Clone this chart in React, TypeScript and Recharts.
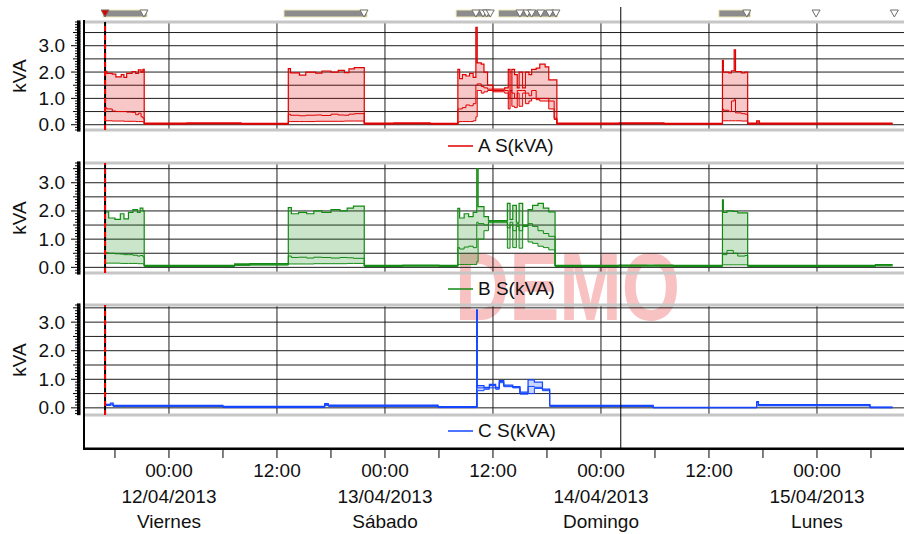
import React from 'react';
import {
  ComposedChart,
  Area,
  Line,
  XAxis,
  YAxis,
  CartesianGrid,
  ReferenceLine,
  ReferenceArea,
  Scatter,
  Legend,
} from 'recharts';

const FONT = '"Liberation Sans", Arial, sans-serif';

// hours counted from 12/04/2013 00:00
const X_DOMAIN: [number, number] = [-9.44, 81.67];
const gridHours = [0, 12, 24, 36, 48, 60, 72];
const axisHours = [-6, 0, 6, 12, 18, 24, 30, 36, 42, 48, 54, 60, 66, 72, 78];
const gridValues = [0, 0.5, 1, 1.5, 2, 2.5, 3, 3.5];
const dayDates = ['12/04/2013', '13/04/2013', '14/04/2013', '15/04/2013'];
const dayNames = ['Viernes', 'Sábado', 'Domingo', 'Lunes'];

const startHour = -7.1;
const cursorHour = 50.2;

// event strip on top
const eventStarts = [-7.33, 12.78, 31.9, 36.6, 61.1];
const eventEnds = [-2.44, 22.0, 35.8, 43.2, 64.6];
const markerHours = [-2.78, 21.67, 34.1, 34.9, 35.3, 35.7, 39.0, 39.8, 40.3, 41.3, 42.3, 43.0, 64.2, 71.9, 80.6];

// phase A
const hoursA = [
  -7.1, -6.9, -6.3, -5.9, -5.3, -5.0, -4.7, -4.1, -3.7, -3.4, -3.1, -2.9,
  -2.75, 2.0, 8.0,
  13.26, 13.5, 14.5, 15.2, 16.3, 17.0, 18.0, 18.8, 19.5, 20.0, 20.6,
  21.7, 25.0, 29.0,
  32.1, 32.3, 32.6, 33.0, 33.4, 33.8, 34.1, 34.25, 34.7, 35.0, 35.4, 36.0, 37.3, 37.7,
  37.9, 38.1, 38.4, 38.7, 38.9, 39.3, 39.6, 40.0, 40.3, 40.8, 41.2, 41.8, 42.2, 42.8,
  43.1, 50.0, 55.0,
  61.5, 61.6, 62.2, 62.5, 62.8, 62.95, 63.6, 64.0,
  64.3, 65.3, 65.6, 72.0, 80.4,
];
const aMin = [
  0.15, 0.15, 0.14, 0.14, 0.14, 0.13, 0.13, 0.13, 0.12, 0.12, 0.12, 0.1,
  0.02, 0.03, 0.02,
  0.12, 0.12, 0.12, 0.12, 0.13, 0.13, 0.13, 0.13, 0.14, 0.14, 0.14,
  0.02, 0.03, 0.02,
  0.1, 0.12, 0.12, 0.12, 0.12, 0.15, 0.3, 1.3, 1.2, 1.25, 1.3, 1.25, 1.2, 0.6,
  1.3, 0.7, 0.65, 1.2, 0.7, 1.2, 0.8, 0.9, 1.0, 0.95, 0.9, 0.9, 0.6, 0.2,
  0.02, 0.03, 0.02,
  0.15, 0.15, 0.15, 0.15, 0.15, 0.15, 0.14, 0.14,
  0.02, 0.04, 0.02, 0.02, 0.02,
];
const aAvg = [
  0.64, 0.6, 0.52, 0.5, 0.5, 0.5, 0.48, 0.47, 0.38, 0.44, 0.3, 0.25,
  0.04, 0.05, 0.03,
  0.4, 0.36, 0.34, 0.36, 0.37, 0.35, 0.4, 0.37, 0.36, 0.4, 0.42,
  0.04, 0.05, 0.03,
  0.6, 0.6, 0.65, 0.75, 0.72, 0.8, 1.5, 1.55, 1.45, 1.4, 1.35, 1.3, 1.3, 1.0,
  1.3, 1.2, 1.0, 1.3, 1.3, 1.3, 1.2, 1.1, 1.3, 1.0, 1.0, 1.0, 0.9, 0.25,
  0.04, 0.05, 0.03,
  0.6, 0.55, 0.5, 0.9, 0.95, 0.45, 0.42, 0.4,
  0.04, 0.1, 0.04, 0.04, 0.04,
];
const aMax = [
  2.03, 1.95, 1.92, 1.82, 1.9, 1.8, 1.95, 2.02, 1.95, 2.08, 2.0, 2.1,
  0.06, 0.07, 0.05,
  2.13, 1.97, 1.88, 2.0, 1.96, 2.04, 2.0, 2.06, 1.98, 2.12, 2.17,
  0.06, 0.07, 0.05,
  2.1, 1.75, 1.9, 1.85, 1.95, 1.8, 3.7, 2.35, 2.3, 2.0, 1.5, 1.35, 1.4, 2.1,
  1.3, 2.1, 1.9, 1.4, 2.0, 1.4, 2.0, 1.9, 2.1, 2.15, 2.3, 2.2, 1.7, 1.7,
  0.06, 0.07, 0.05,
  2.44, 2.0, 1.97, 2.05, 2.84, 2.02, 1.97, 2.0,
  0.06, 0.15, 0.06, 0.06, 0.06,
];

// phase B
const hoursB = [
  -7.1, -6.7, -6.0, -5.4, -5.0, -4.5, -4.0, -3.5, -3.2, -2.9,
  -2.75, 7.3, 9.0,
  13.26, 13.6, 14.4, 15.3, 16.1, 17.0, 18.0, 19.0, 19.8, 20.5,
  21.7, 26.0, 30.0,
  32.1, 32.3, 32.8, 33.3, 33.8, 34.2, 34.35, 35.0, 35.5, 37.6,
  37.9, 38.2, 38.6, 38.9, 39.3, 39.9, 40.4, 41.0, 41.6, 42.2,
  42.9, 50.0, 56.0,
  61.5, 61.6, 62.0, 62.7, 63.2, 64.0,
  64.3, 70.0, 78.5, 80.4,
];
const bMin = [
  0.15, 0.15, 0.15, 0.14, 0.14, 0.14, 0.14, 0.13, 0.13, 0.12,
  0.03, 0.07, 0.08,
  0.12, 0.12, 0.12, 0.12, 0.13, 0.13, 0.13, 0.13, 0.14, 0.14,
  0.03, 0.04, 0.03,
  0.1, 0.1, 0.1, 0.1, 0.1, 0.2, 1.0, 1.3, 1.58, 0.68,
  1.5, 0.7, 1.45, 0.68, 1.45, 0.9, 0.85, 0.75, 0.7, 0.62,
  0.03, 0.04, 0.03,
  0.09, 0.09, 0.09, 0.09, 0.09, 0.09,
  0.03, 0.03, 0.05, 0.05,
];
const bAvg = [
  0.52, 0.5, 0.48, 0.47, 0.45, 0.45, 0.43, 0.4, 0.42, 0.37,
  0.05, 0.1, 0.11,
  0.4, 0.35, 0.36, 0.33, 0.36, 0.35, 0.33, 0.35, 0.34, 0.32,
  0.05, 0.06, 0.05,
  0.7, 0.65, 0.72, 0.75, 0.7, 1.6, 1.55, 1.5, 1.62, 1.4,
  1.6, 1.3, 1.55, 1.3, 1.47, 1.55, 1.45, 1.3, 1.2, 1.1,
  0.05, 0.06, 0.05,
  0.5, 0.45, 0.6, 0.5, 0.4, 0.42,
  0.05, 0.05, 0.08, 0.08,
];
const bMax = [
  1.97, 1.75, 1.7, 1.9, 1.72, 1.95, 2.05, 1.95, 2.1, 2.0,
  0.07, 0.12, 0.13,
  2.12, 1.9, 1.95, 1.9, 2.0, 1.95, 2.05, 2.0, 2.1, 2.17,
  0.07, 0.08, 0.07,
  2.09, 1.75, 1.9, 1.8, 1.95, 3.5, 2.15, 1.8, 1.66, 2.27,
  1.7, 2.2, 1.6, 2.27, 1.5, 2.05, 2.2, 2.27, 2.1, 1.97,
  0.07, 0.08, 0.07,
  2.39, 1.95, 2.0, 1.98, 1.93, 1.93,
  0.07, 0.07, 0.1, 0.1,
];

// phase C
const hoursC = [
  -7.1, -6.5, -6.2, 6.0, 17.3, 17.7, 29.9, 34.2, 34.25, 35.0, 35.6, 36.3, 36.7,
  37.2, 38.2, 39.0, 39.9, 40.6, 41.5, 42.3, 53.8, 65.3, 65.5, 77.9, 80.4,
];
const cMin = [
  0.08, 0.1, 0.05, 0.01, 0.08, 0.05, 0.01, 0.02, 0.6, 0.65, 0.7, 0.65, 0.88,
  0.74, 0.7, 0.48, 0.5, 0.68, 0.6, 0.05, 0.0, 0.1, 0.07, 0.0, 0.0,
];
const cAvg = [
  0.1, 0.14, 0.07, 0.03, 0.12, 0.08, 0.03, 3.43, 0.7, 0.69, 0.78, 0.69, 0.92,
  0.77, 0.72, 0.51, 0.75, 0.72, 0.63, 0.07, 0.01, 0.18, 0.09, 0.02, 0.02,
];
const cMax = [
  0.12, 0.17, 0.09, 0.05, 0.15, 0.1, 0.04, 3.43, 0.78, 0.72, 0.82, 0.72, 0.95,
  0.8, 0.74, 0.55, 0.98, 0.9, 0.66, 0.09, 0.02, 0.22, 0.11, 0.03, 0.03,
];

type Row = { h: number; min: number; avg: number; max: number };

const buildRows = (hours: number[], mins: number[], avgs: number[], maxs: number[]): Row[] =>
  hours.map((h, i) => ({ h, min: mins[i], avg: avgs[i], max: maxs[i] }));

const rowsA = buildRows(hoursA, aMin, aAvg, aMax);
const rowsB = buildRows(hoursB, bMin, bAvg, bMax);
const rowsC = buildRows(hoursC, cMin, cAvg, cMax);
const markerRows = markerHours.map((h) => ({ h, y: 0.5 }));
const startRows = [{ h: startHour, y: 0.5 }];

// ruler ticks every 0.1 kVA inside the domain
const rulerTicks = (d: [number, number]) => {
  const lo = Math.ceil(d[0] * 10 - 1e-6);
  const hi = Math.floor(d[1] * 10 + 1e-6);
  return Array.from({ length: hi - lo + 1 }, (_, i) => (lo + i) / 10);
};

const RulerTick = (props: any) => {
  const { x, y, payload } = props;
  const v = payload.value;
  const tenth = Math.round(v * 10);
  const major = tenth % 10 === 0;
  const half = tenth % 5 === 0;
  const len = major ? 13 : half ? 11 : 9;
  return (
    <g>
      <rect x={x - 7} y={y - 1.6} width={3.5} height={3.2} fill="#000" />
      <line x1={x - len} x2={x - 7} y1={y} y2={y} stroke="#000" strokeWidth={1} />
      {major && tenth >= 0 && (
        <text
          x={x - 19}
          y={y}
          textAnchor="end"
          dominantBaseline="central"
          fontSize={19}
          fontFamily={FONT}
          fill="#111"
        >
          {(tenth / 10).toFixed(1)}
        </text>
      )}
    </g>
  );
};

const kvaLabel = (props: any) => {
  const vb = props.viewBox;
  const cx = vb.x + 19;
  const cy = vb.y + vb.height / 2;
  return (
    <text
      x={cx}
      y={cy}
      transform={`rotate(-90 ${cx} ${cy})`}
      textAnchor="middle"
      dominantBaseline="central"
      fontSize={19}
      fontFamily={FONT}
      fill="#111"
    >
      kVA
    </text>
  );
};

const TimeTick = (props: any) => {
  const { x, y, payload } = props;
  const v = payload.value;
  if (v % 12 !== 0) return <g />;
  const midnight = v % 24 === 0;
  const day = v / 24;
  return (
    <text x={x} y={y} textAnchor="middle" fontSize={19} fontFamily={FONT} fill="#111">
      <tspan x={x} dy="0.9em">{midnight ? '00:00' : '12:00'}</tspan>
      {midnight && <tspan x={x} dy="1.35em">{dayDates[day]}</tspan>}
      {midnight && <tspan x={x} dy="1.35em">{dayNames[day]}</tspan>}
    </text>
  );
};

const Tri = (props: any) => {
  const { cx, cy, fill } = props;
  return (
    <polygon
      points={`${cx - 4},${cy - 3.5} ${cx + 4},${cy - 3.5} ${cx},${cy + 3.5}`}
      fill={fill}
      stroke="#6e6e6e"
      strokeWidth={1}
    />
  );
};

const Nothing = () => <g />;

const LegendBox = ({ color, label }: { color: string; label: string }) => (
  <div
    style={{
      height: 32,
      display: 'flex',
      alignItems: 'center',
      paddingLeft: 448,
      fontFamily: FONT,
      fontSize: 19,
      color: '#111',
    }}
  >
    <svg width={25} height={6}>
      <line x1={0} x2={25} y1={3} y2={3} stroke={color} strokeWidth={1.5} />
    </svg>
    <span style={{ marginLeft: 5 }}>{label}</span>
  </div>
);

type PanelProps = {
  top: number;
  plotHeight: number;
  rows: Row[];
  color: string;
  label: string;
  yDomain: [number, number];
};

function Panel({ top, plotHeight, rows, color, label, yDomain }: PanelProps) {
  return (
    <div style={{ position: 'absolute', left: 0, top }}>
      <ComposedChart
        width={904}
        height={3 + plotHeight + 32}
        data={rows}
        margin={{ top: 3, right: 0, bottom: 0, left: 0 }}
      >
        <CartesianGrid horizontalValues={gridValues} verticalValues={gridHours} stroke="#1e1e1e" />
        <XAxis dataKey="h" type="number" domain={X_DOMAIN} hide allowDataOverflow />
        <YAxis
          type="number"
          domain={yDomain}
          ticks={rulerTicks(yDomain)}
          interval={0}
          width={84}
          tickSize={0}
          tickMargin={0}
          tickLine={false}
          axisLine={false}
          tick={<RulerTick />}
          label={kvaLabel}
          allowDataOverflow
        />
        <ReferenceLine y={yDomain[1]} stroke="#c6c6c6" strokeWidth={3} ifOverflow="visible" />
        <ReferenceLine y={yDomain[0]} stroke="#c6c6c6" strokeWidth={3} ifOverflow="visible" />
        <Area
          type="stepAfter"
          dataKey={(d: Row) => [d.min, d.max]}
          stroke="none"
          fill={color}
          fillOpacity={0.22}
          legendType="none"
          isAnimationActive={false}
        />
        <Line type="stepAfter" dataKey="min" stroke={color} strokeWidth={1} dot={false} legendType="none" isAnimationActive={false} />
        <Line type="stepAfter" dataKey="avg" stroke={color} strokeWidth={1} dot={false} legendType="none" isAnimationActive={false} />
        <Line type="stepAfter" dataKey="max" name={label} stroke={color} strokeWidth={1.2} dot={false} isAnimationActive={false} />
        <ReferenceLine x={startHour} stroke="#000" strokeWidth={2} />
        <ReferenceLine x={startHour} stroke="#ff0000" strokeWidth={2} strokeDasharray="5 4" />
        <Legend
          verticalAlign="bottom"
          wrapperStyle={{ left: 0, width: 904 }}
          content={() => <LegendBox color={color} label={label} />}
        />
      </ComposedChart>
    </div>
  );
}

export default function App() {
  return (
    <div
      style={{
        position: 'absolute',
        left: 0,
        top: 0,
        width: 904,
        height: 534,
        background: '#fff',
        overflow: 'hidden',
        fontFamily: FONT,
      }}
    >
      {/* watermark */}
      <svg width={904} height={534} style={{ position: 'absolute', left: 0, top: 0 }}>
        <text
          x={455}
          y={320}
          fontSize={96}
          fontWeight={700}
          fontFamily={FONT}
          textLength={225}
          lengthAdjust="spacingAndGlyphs"
          fill="#f9c2c2"
        >
          DEMO
        </text>
      </svg>

      {/* event strip */}
      <div style={{ position: 'absolute', left: 0, top: 0 }}>
        <ComposedChart width={904} height={20} margin={{ top: 10, right: 0, bottom: 3, left: 84 }}>
          <XAxis dataKey="h" type="number" domain={X_DOMAIN} hide allowDataOverflow />
          <YAxis dataKey="y" type="number" domain={[0, 1]} hide />
          {eventStarts.map((s, i) => (
            <ReferenceArea
              key={i}
              x1={s}
              x2={eventEnds[i]}
              y1={0}
              y2={1}
              fill="#8c8c8c"
              fillOpacity={1}
              stroke="#efeab8"
              strokeWidth={1}
              ifOverflow="visible"
            />
          ))}
          <Scatter data={markerRows} shape={<Tri fill="#ffffff" />} isAnimationActive={false} />
          <Scatter data={startRows} shape={<Tri fill="#e00000" />} isAnimationActive={false} />
        </ComposedChart>
      </div>

      <Panel top={19} plotHeight={108} rows={rowsA} color="#e00000" label="A S(kVA)" yDomain={[-0.2, 3.9]} />
      <Panel top={160} plotHeight={110} rows={rowsB} color="#138a13" label="B S(kVA)" yDomain={[-0.2, 3.7]} />
      <Panel top={302} plotHeight={110} rows={rowsC} color="#1446ff" label="C S(kVA)" yDomain={[-0.25, 3.6]} />

      {/* time axis */}
      <div style={{ position: 'absolute', left: 0, top: 443 }}>
        <ComposedChart width={904} height={91} data={rowsC} margin={{ top: 3, right: 0, bottom: 0, left: 84 }}>
          <XAxis
            dataKey="h"
            type="number"
            domain={X_DOMAIN}
            ticks={axisHours}
            interval={0}
            height={85}
            tickSize={9}
            tickMargin={2}
            tick={<TimeTick />}
            axisLine={{ stroke: '#000', strokeWidth: 2 }}
            tickLine={{ stroke: '#000', strokeWidth: 1 }}
            allowDataOverflow
          />
          <YAxis hide domain={[0, 1]} />
          <ReferenceLine y={1} stroke="#000" strokeWidth={1.5} ifOverflow="visible" />
          <Line dataKey="avg" stroke="none" dot={false} legendType="none" isAnimationActive={false} />
        </ComposedChart>
      </div>

      {/* left frame line */}
      <div style={{ position: 'absolute', left: 83, top: 20, width: 1.5, height: 430, background: '#000' }} />

      {/* cursor */}
      <div style={{ position: 'absolute', left: 0, top: 0 }}>
        <ComposedChart width={904} height={450} margin={{ top: 7, right: 0, bottom: 0, left: 84 }}>
          <XAxis dataKey="h" type="number" domain={X_DOMAIN} hide allowDataOverflow />
          <YAxis dataKey="y" type="number" domain={[0, 1]} hide />
          <Scatter data={markerRows} shape={<Nothing />} isAnimationActive={false} />
          <ReferenceLine x={cursorHour} stroke="#000" strokeWidth={1} ifOverflow="visible" />
        </ComposedChart>
      </div>
    </div>
  );
}
